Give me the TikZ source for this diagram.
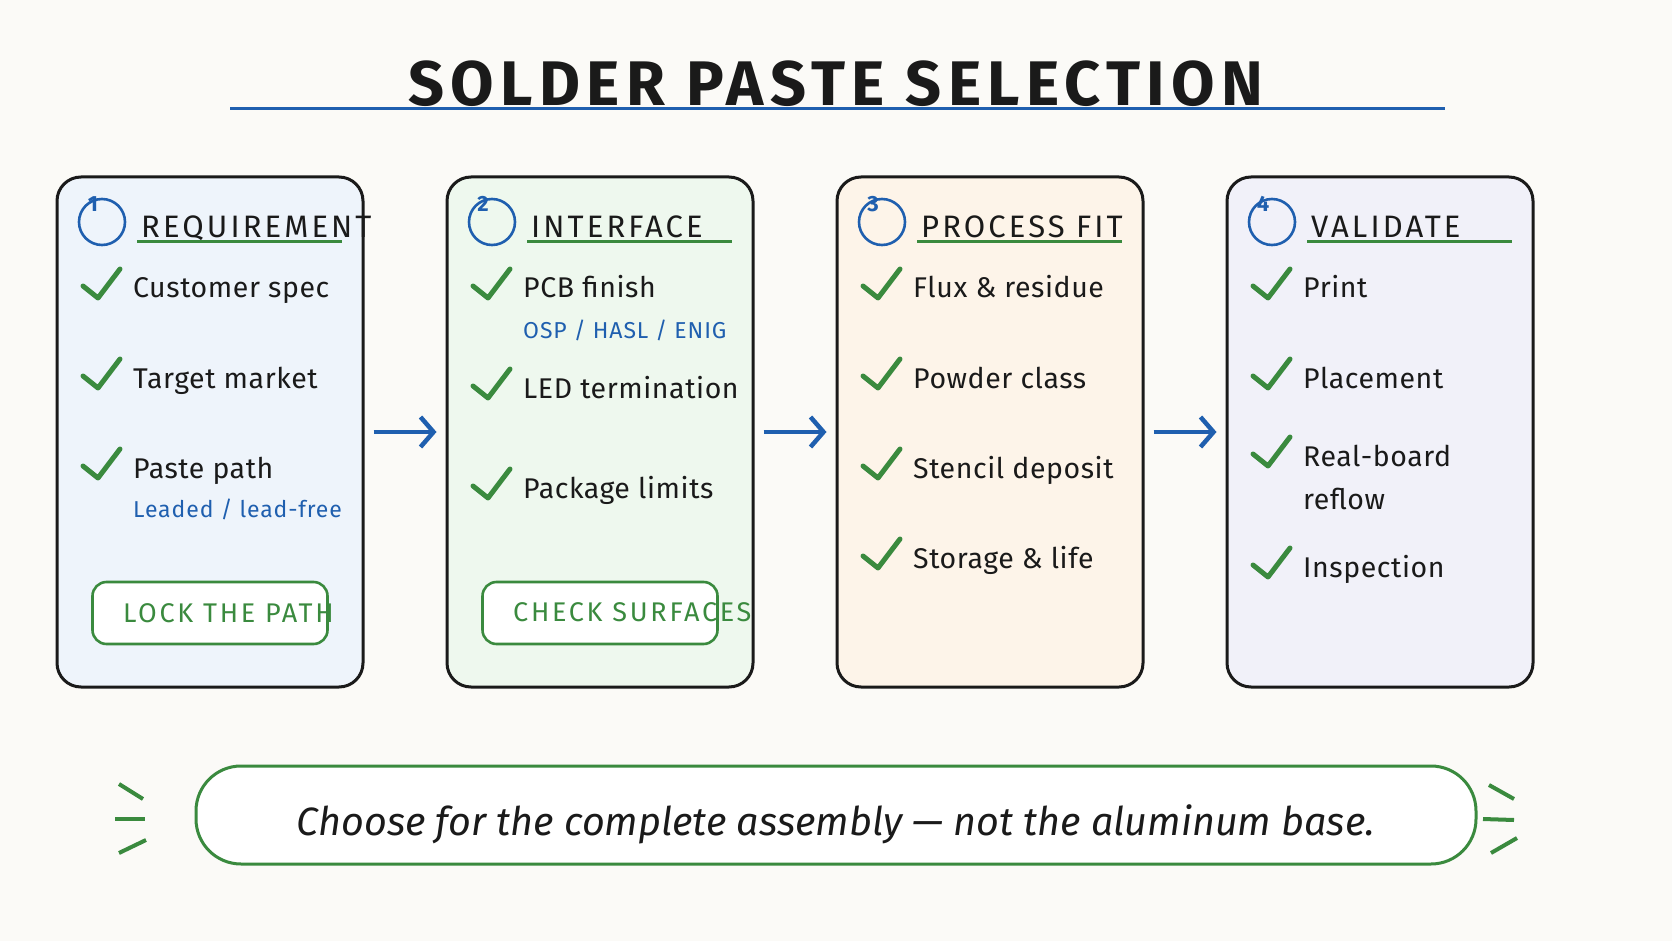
\documentclass[tikz,border=0pt]{standalone}
\usepackage{fontspec}
\setmainfont{Fira Sans}
\usetikzlibrary{calc,arrows.meta,positioning}
\definecolor{bgx}{HTML}{FBFAF7}
\definecolor{inkx}{HTML}{1A1A1A}
\definecolor{greenx}{HTML}{3A8A3E}
\definecolor{bluex}{HTML}{1F5FAF}
\definecolor{cardA}{HTML}{EEF4FB}
\definecolor{cardB}{HTML}{EEF8EE}
\definecolor{cardC}{HTML}{FDF4E9}
\definecolor{cardD}{HTML}{F1F1F9}
\tikzset{
  card/.style={draw=inkx,line width=3pt,rounded corners=24pt,minimum width=306pt,minimum height=510pt,inner sep=0},
  numc/.style={circle,draw=bluex,line width=2.6pt,minimum size=46pt,inner sep=0},
  numtxt/.style={text=bluex,font=\fontsize{22}{22}\selectfont\bfseries,inner sep=0},
  head/.style={anchor=base west,inner sep=0,text=inkx,font=\fontsize{31}{31}\selectfont\addfontfeature{LetterSpace=10}},
  uline/.style={greenx,line width=3pt},
  item/.style={anchor=base west,inner sep=0,text=inkx,font=\fontsize{28.5}{28.5}\selectfont\addfontfeature{LetterSpace=2}},
  sub/.style={anchor=base west,inner sep=0,text=bluex,font=\fontsize{23}{23}\selectfont\addfontfeature{LetterSpace=4}},
  chk/.style={greenx,line width=5pt,line cap=round,line join=round},
  btn/.style={draw=greenx,line width=2.6pt,fill=white,rounded corners=14pt,minimum width=235pt,minimum height=62pt,inner sep=0},
  btntxt/.style={anchor=base west,inner sep=0,text=greenx,font=\fontsize{27}{27}\selectfont\addfontfeature{LetterSpace=10}},
  ar/.style={-{Straight Barb[length=13pt,width=30pt]},line width=4.5pt,bluex,shorten <=9pt,shorten >=9pt},
  foot/.style={draw=greenx,line width=3pt,fill=white,rounded corners=45pt,minimum width=1280pt,minimum height=98pt,inner sep=0},
  spark/.style={greenx,line width=4pt},
  title/.style={anchor=base,inner sep=0,text=inkx,font=\fontsize{63}{63}\selectfont\bfseries\addfontfeature{LetterSpace=10}}
}
% one checked line: name, position, text
\newcommand{\chkitem}[3]{%
  \node[item] (#1) at (#2) {#3};
  \draw[chk] ($(#1.base west)+(-50,-12)$) -- ++(15,12) -- ++(22,-29);}

\begin{document}
\begin{tikzpicture}[x=1pt,y=-1pt]
\fill[bgx] (0,0) rectangle (1672,941);

% title
\node[title] (ttl) at (836,106) {SOLDER PASTE SELECTION};
\draw[bluex,line width=3pt] (230,109) -- (1445,109);

% cards
\foreach \i/\x/\f/\t in {1/57/cardA/REQUIREMENT,2/447/cardB/INTERFACE,3/837/cardC/PROCESS FIT,4/1227/cardD/VALIDATE}{
  \node[card,fill=\f] (c\i) at (\x+153,432) {};
  \node[numc] (n\i) at (\x+45,222) {};
  \node[numtxt] (d\i) at (\x+36,204) {\i};
  \node[head] (h\i) at (\x+84,238) {\t};
  \draw[uline] (\x+80,242) -- (\x+285,242);
}

% card 1
\chkitem{r1a}{133,298}{Customer spec}
\chkitem{r1b}{133,388}{Target market}
\chkitem{r1c}{133,478}{Paste path}
\node[sub] (s1) at (133,517) {Leaded / lead-free};
\node[btn] (b1) at (c1.center |- 0,613) {};
\node[btntxt] (bt1) at (123,622) {LOCK THE PATH};

% card 2, lines cut at the frame
\begin{scope}
\clip[rounded corners=24pt] (c2.south west) rectangle (c2.north east);
\chkitem{r2a}{523,298}{PCB finish}
\node[sub] (s2) at (523,338) {OSP / HASL / ENIG};
\chkitem{r2b}{523,398}{LED termination}
\chkitem{r2c}{523,498}{Package limits}
\end{scope}
\node[btn] (b2) at (c2.center |- 0,613) {};
\node[btntxt] (bt2) at (513,621) {CHECK SURFACES};

% card 3
\chkitem{r3a}{913,298}{Flux \& residue}
\chkitem{r3b}{913,388}{Powder class}
\chkitem{r3c}{913,478}{Stencil deposit}
\chkitem{r3d}{913,568}{Storage \& life}

% card 4
\chkitem{r4a}{1303,298}{Print}
\chkitem{r4b}{1303,388}{Placement}
\chkitem{r4c}{1303,466}{Real-board}
\node[item] (r4d) at (1303,509) {reflow};
\chkitem{r4e}{1303,577}{Inspection}

% flow
\draw[ar] (c1.east) -- (c2.west);
\draw[ar] (c2.east) -- (c3.west);
\draw[ar] (c3.east) -- (c4.west);

% footer
\node[foot] (ft) at (836,815) {};
\node[anchor=base,inner sep=0,text=inkx,font=\fontsize{39.5}{39.5}\selectfont\itshape] (ftxt) at (836,835) {Choose for the complete assembly — not the aluminum base.};
\draw[spark] (119,784) -- (143,799);
\draw[spark] (115,819) -- (145,819);
\draw[spark] (119,853) -- (146,840);
\draw[spark] (1489,785) -- (1514,799);
\draw[spark] (1483,819) -- (1514,820);
\draw[spark] (1491,853) -- (1517,838);
\end{tikzpicture}
\end{document}
